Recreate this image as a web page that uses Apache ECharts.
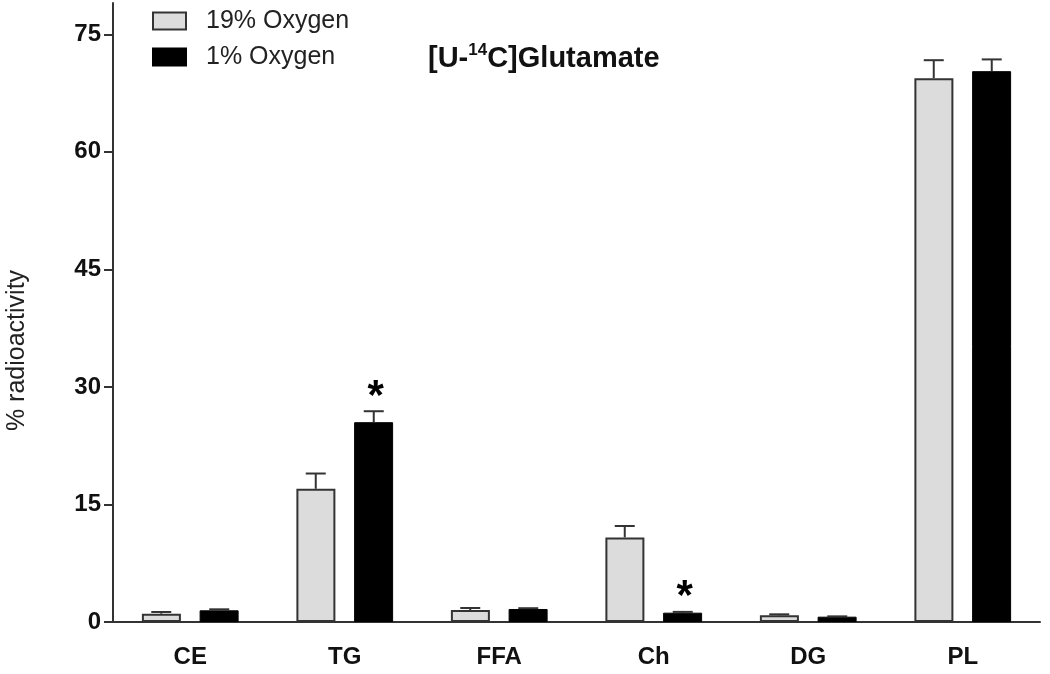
<!DOCTYPE html>
<html>
<head>
<meta charset="utf-8">
<script src="https://cdn.jsdelivr.net/npm/echarts@6/dist/echarts.min.js"></script>
<style>
  html, body { margin: 0; padding: 0; background: #fff; }
  #chart { width: 1050px; height: 674px; }
</style>
</head>
<body>
<div id="chart"></div>
<script>
  // 类别
  const categories = ['CE', 'TG', 'FFA', 'Ch', 'DG', 'PL']
  // 19% 氧气 均值 / 误差
  const oxy19 = [1.06, 17.0, 1.53, 10.8, 0.85, 69.4]
  const oxy19Err = [0.22, 1.95, 0.26, 1.45, 0.13, 2.3]
  // 1% 氧气 均值 / 误差
  const oxy1 = [1.49, 25.5, 1.66, 1.19, 0.68, 70.3]
  const oxy1Err = [0.13, 1.4, 0.1, 0.1, 0.04, 1.5]
  // 显著性标记
  const oxy1Sig = [0, 1, 0, 1, 0, 0]
  const yTicks = [0, 15, 30, 45, 60, 75]

  const font = '"Liberation Sans", Arial, sans-serif'
  const axisColor = '#333'
  const barWidth = 39
  const barOffset = 29

  // 误差线（只画向上的一半）
  const errorSeries = (name, values, errs, sig, offset) => ({
    name: name,
    type: 'custom',
    z: 5,
    data: values.map((v, i) => [i, v, errs[i], sig ? sig[i] : 0]),
    renderItem: (params, api) => {
      const base = api.coord([api.value(0), api.value(1)])
      const top = api.coord([api.value(0), api.value(1) + api.value(2)])
      const x = base[0] + offset
      const style = { stroke: axisColor, lineWidth: 2 }
      const children = [
        { type: 'line', shape: { x1: x, y1: base[1], x2: x, y2: top[1] }, style },
        { type: 'line', shape: { x1: x - 10, y1: top[1], x2: x + 10, y2: top[1] }, style }
      ]
      if (api.value(3)) {
        children.push({
          type: 'text',
          style: {
            text: '*', x: x + 2, y: top[1] + 7, align: 'center', verticalAlign: 'bottom',
            font: 'bold 42px ' + font, fill: '#000'
          }
        })
      }
      return { type: 'group', children }
    }
  })

  const chart = echarts.init(document.getElementById('chart'))
  chart.setOption({
    animation: false,
    title: {
      text: '{b|[U-}{s|14}{b|C]Glutamate}',
      left: 423,
      top: 37,
      textStyle: {
        rich: {
          b: { fontSize: 29, fontWeight: 'bold', fontFamily: font, color: '#111', lineHeight: 34 },
          s: { fontSize: 17, fontWeight: 'bold', fontFamily: font, color: '#111', verticalAlign: 'top', lineHeight: 18 }
        }
      }
    },
    legend: {
      data: ['19% Oxygen', '1% Oxygen'],
      orient: 'vertical',
      left: 147,
      top: 3,
      itemWidth: 33,
      itemHeight: 17,
      itemGap: 10,
      icon: 'rect',
      textStyle: { fontSize: 25, lineHeight: 26, fontFamily: font, color: '#222', padding: [0, 0, 0, 15] }
    },
    grid: { left: 113, right: 10, top: 3, bottom: 52, outerBoundsMode: 'none' },
    xAxis: {
      type: 'category',
      data: categories,
      axisLine: { lineStyle: { color: axisColor, width: 2 } },
      axisTick: { alignWithLabel: true, length: 10, lineStyle: { color: axisColor, width: 2 } },
      axisLabel: { margin: 23, fontSize: 24, fontWeight: 'bold', fontFamily: font, color: '#111' }
    },
    yAxis: {
      type: 'value',
      min: 0,
      max: 79,
      interval: 15,
      name: '% radioactivity',
      nameLocation: 'middle',
      nameRotate: 90,
      nameGap: 83,
      nameTextStyle: { fontSize: 25, fontFamily: font, color: '#222', padding: [0, 76, 0, 0] },
      splitLine: { show: false },
      axisLine: { show: true, lineStyle: { color: axisColor, width: 2 } },
      axisTick: { show: true, length: 9, customValues: yTicks, lineStyle: { color: axisColor, width: 2 } },
      axisLabel: { margin: 12, customValues: yTicks, fontSize: 24, fontWeight: 'bold', fontFamily: font, color: '#111' }
    },
    series: [
      {
        name: '19% Oxygen',
        type: 'bar',
        data: oxy19,
        barWidth: barWidth,
        barGap: '48%',
        itemStyle: { color: '#dcdcdc', borderColor: axisColor, borderWidth: 2 }
      },
      {
        name: '1% Oxygen',
        type: 'bar',
        data: oxy1,
        barWidth: barWidth,
        itemStyle: { color: '#000', borderColor: '#000', borderWidth: 1 }
      },
      errorSeries('err19', oxy19, oxy19Err, null, -barOffset),
      errorSeries('err1', oxy1, oxy1Err, oxy1Sig, barOffset)
    ]
  })
</script>
</body>
</html>
